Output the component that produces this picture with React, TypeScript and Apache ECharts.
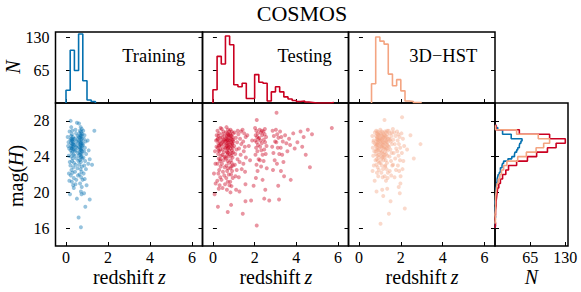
import { useEffect, useRef } from "react";
import * as echarts from "echarts";

const FONT = "Liberation Serif";
const COLOR_TRAIN = "#0571b0";
const COLOR_TEST = "#ca0020";
const COLOR_HST = "#f4a582";

const panelNames = ["Training", "Testing", "3D\u2212HST"];
const zTicks = [0, 2, 4, 6];
const magTicks = [16, 20, 24, 28];
const countTicks = [65, 130];

// redshift histogram bins (width 0.2)
const zBinEdges = [0, 0.2, 0.4, 0.6, 0.8, 1.0, 1.2, 1.4, 1.6, 1.8, 2.0, 2.2, 2.4, 2.6, 2.8, 3.0, 3.2, 3.4, 3.6, 3.8, 4.0, 4.2, 4.4, 4.6, 4.8, 5.0, 5.2, 5.4, 5.6, 5.8, 6.0];
const trainZCounts = [25, 104, 64, 136, 44, 6, 3, 0, 0, 0, 0, 0, 0, 0, 0, 0, 0, 0, 0, 0, 0, 0, 0, 0, 0, 0, 0, 0, 0, 0];
const testZCounts = [26, 92, 77, 132, 115, 36, 32, 39, 9, 9, 56, 41, 39, 4, 22, 32, 22, 12, 8, 5, 3, 4, 2, 1, 0, 0, 0, 0, 1, 0];
const hstZCounts = [0, 0, 0, 38, 130, 122, 116, 57, 34, 46, 24, 4, 3, 1, 1, 0, 0, 0, 0, 0, 0, 0, 0, 0, 0, 0, 0, 0, 0, 0];

// magnitude histogram bins
const magEdgesHalf = [16, 16.5, 17, 17.5, 18, 18.5, 19, 19.5, 20, 20.5, 21, 21.5, 22, 22.5, 23, 23.5, 24, 24.5, 25, 25.5, 26, 26.5, 27, 27.5];
const testMagCounts = [1, 0, 1, 1, 2, 2, 3, 4, 5, 7, 10, 14, 20, 25, 40, 60, 77, 97, 113, 130, 101, 45, 2];
const hstMagCounts = [0, 1, 0, 1, 1, 1, 1, 2, 3, 4, 6, 9, 12, 16, 22, 42, 58, 76, 90, 101, 80, 40, 1];
const magEdgesQuarter = [16, 16.25, 16.5, 16.75, 17, 17.25, 17.5, 17.75, 18, 18.25, 18.5, 18.75, 19, 19.25, 19.5, 19.75, 20, 20.25, 20.5, 20.75, 21, 21.25, 21.5, 21.75, 22, 22.25, 22.5, 22.75, 23, 23.25, 23.5, 23.75, 24, 24.25, 24.5, 24.75, 25, 25.25, 25.5, 25.75, 26, 26.25, 26.5, 26.75, 27, 27.25, 27.5];
const trainMagCounts = [1, 0, 0, 0, 1, 0, 0, 0, 0, 1, 0, 0, 1, 1, 1, 2, 2, 2, 3, 3, 4, 4, 5, 6, 8, 10, 10, 13, 14, 16, 24, 31, 36, 37, 40, 42, 45, 46, 48, 50, 30, 30, 14, 14, 5, 2];

// scatter points [redshift z, mag(H)]
const trainPoints = [
  [0.12, 25.6], [0.15, 24.9], [0.08, 26.2], [0.18, 23.4], [0.14, 22.1], [0.19, 19.8], [0.1, 25.2], [0.17, 26.8], [0.13, 24.1], [0.16, 21.3],
  [0.22, 28.0], [0.25, 27.3], [0.3, 26.9], [0.28, 26.5], [0.24, 26.3], [0.33, 26.2], [0.36, 26.0], [0.21, 25.9], [0.27, 25.8], [0.31, 25.7],
  [0.35, 25.6], [0.23, 25.5], [0.29, 25.4], [0.38, 25.3], [0.26, 25.2], [0.32, 25.1], [0.25, 25.0], [0.34, 24.9], [0.37, 24.8], [0.22, 24.7],
  [0.3, 24.6], [0.27, 24.4], [0.36, 24.2], [0.24, 24.0], [0.33, 23.8], [0.29, 23.5], [0.38, 23.3], [0.21, 23.0], [0.35, 22.8], [0.26, 22.5],
  [0.31, 22.2], [0.23, 21.9], [0.37, 21.6], [0.28, 21.2], [0.34, 20.8], [0.37, 20.5], [0.25, 26.0], [0.3, 25.9], [0.34, 25.4], [0.28, 24.9],
  [0.52, 27.8], [0.45, 27.0], [0.48, 26.6], [0.55, 26.3], [0.42, 26.0], [0.5, 25.7], [0.58, 25.5], [0.44, 25.3], [0.53, 25.0], [0.47, 24.7],
  [0.56, 24.4], [0.41, 24.1], [0.5, 23.8], [0.59, 23.5], [0.46, 23.1], [0.54, 22.7], [0.43, 22.3], [0.57, 21.9], [0.49, 21.4], [0.52, 19.3],
  [0.45, 20.9], [0.55, 25.9], [0.48, 25.1], [0.6, 17.2], [0.42, 24.6],
  [0.62, 27.7], [0.7, 27.3], [0.75, 27.1], [0.66, 26.9], [0.72, 26.8], [0.64, 26.6], [0.78, 26.5], [0.69, 26.4], [0.73, 26.3], [0.61, 26.2],
  [0.67, 26.1], [0.76, 26.0], [0.7, 25.9], [0.63, 25.8], [0.74, 25.7], [0.68, 25.6], [0.79, 25.5], [0.65, 25.4], [0.71, 25.3], [0.77, 25.2],
  [0.62, 25.1], [0.69, 25.0], [0.74, 24.9], [0.66, 24.8], [0.72, 24.7], [0.78, 24.6], [0.64, 24.5], [0.7, 24.4], [0.75, 24.3], [0.68, 24.2],
  [0.61, 24.1], [0.73, 24.0], [0.77, 23.8], [0.66, 23.6], [0.71, 23.4], [0.63, 23.1], [0.76, 22.9], [0.69, 22.6], [0.74, 22.3], [0.65, 22.0],
  [0.72, 21.7], [0.79, 21.4], [0.67, 21.0], [0.71, 20.1], [0.75, 20.6], [0.71, 16.1], [0.7, 26.2], [0.72, 25.5], [0.71, 24.8], [0.7, 25.2],
  [0.73, 26.6], [0.69, 23.9], [0.74, 19.8],
  [0.82, 26.9], [0.88, 26.4], [0.85, 26.0], [0.93, 25.7], [0.81, 25.3], [0.9, 25.0], [0.86, 24.6], [0.96, 24.3], [0.83, 23.9], [0.91, 23.5],
  [0.87, 23.0], [0.95, 22.6], [0.84, 22.1], [0.89, 21.5], [0.98, 20.8], [0.92, 18.4], [0.86, 19.9],
  [1.03, 25.8], [1.08, 24.7], [1.13, 23.7], [1.06, 23.2], [1.13, 19.2], [1.24, 23.1], [1.35, 26.9],
];

const testPoints = [
  [0.08, 19.8], [0.1, 24.6], [0.15, 25.8], [0.12, 23.2], [0.18, 26.4], [0.05, 22.1], [0.17, 25.1], [0.13, 21.0],
  [0.24, 18.4], [0.22, 26.9], [0.3, 26.6], [0.27, 26.3], [0.35, 26.1], [0.21, 25.9], [0.33, 25.7], [0.26, 25.5], [0.38, 25.4], [0.29, 25.2],
  [0.23, 25.0], [0.36, 24.8], [0.31, 24.6], [0.25, 24.3], [0.39, 24.1], [0.28, 23.8], [0.34, 23.5], [0.22, 23.2], [0.37, 22.9], [0.3, 22.5],
  [0.26, 22.1], [0.35, 21.7], [0.21, 21.3], [0.32, 20.8], [0.28, 20.4], [0.37, 27.2], [0.24, 26.0], [0.32, 25.3], [0.27, 24.7], [0.36, 23.7],
  [0.42, 27.1], [0.5, 26.8], [0.46, 26.5], [0.55, 26.3], [0.44, 26.1], [0.58, 25.9], [0.49, 25.7], [0.53, 25.4], [0.41, 25.2], [0.57, 25.0],
  [0.47, 24.8], [0.52, 24.5], [0.45, 24.2], [0.59, 23.9], [0.5, 23.6], [0.43, 23.2], [0.56, 22.8], [0.48, 22.3], [0.54, 21.9], [0.41, 21.4],
  [0.58, 20.9], [0.46, 20.5], [0.51, 25.9], [0.55, 24.0], [0.44, 25.6],
  [0.65, 27.3], [0.72, 27.0], [0.78, 26.8], [0.62, 26.7], [0.69, 26.6], [0.75, 26.4], [0.66, 26.3], [0.71, 26.2], [0.79, 26.1], [0.63, 26.0],
  [0.68, 25.9], [0.74, 25.8], [0.61, 25.7], [0.77, 25.6], [0.7, 25.5], [0.64, 25.4], [0.73, 25.3], [0.67, 25.2], [0.76, 25.1], [0.62, 25.0],
  [0.71, 24.9], [0.78, 24.7], [0.66, 24.6], [0.73, 24.4], [0.69, 24.2], [0.75, 24.0], [0.63, 23.8], [0.7, 23.5], [0.77, 23.3], [0.65, 23.0],
  [0.72, 22.7], [0.68, 22.4], [0.76, 22.0], [0.64, 21.6], [0.71, 21.2], [0.79, 20.8], [0.67, 20.3], [0.71, 17.8], [0.74, 26.5], [0.66, 25.8],
  [0.72, 25.0], [0.69, 24.5],
  [0.84, 27.0], [0.9, 26.8], [0.96, 26.6], [0.82, 26.5], [0.88, 26.3], [0.94, 26.2], [0.86, 26.0], [0.92, 25.9], [0.81, 25.8], [0.98, 25.7],
  [0.87, 25.6], [0.93, 25.4], [0.83, 25.3], [0.89, 25.2], [0.95, 25.0], [0.85, 24.9], [0.91, 24.7], [0.97, 24.5], [0.82, 24.3], [0.88, 24.1],
  [0.94, 23.9], [0.86, 23.6], [0.9, 23.3], [0.96, 23.0], [0.84, 22.7], [0.92, 22.4], [0.87, 22.0], [0.95, 21.6], [0.83, 21.2], [0.89, 20.7],
  [0.84, 20.0], [0.87, 18.6], [0.93, 25.5], [0.85, 26.4], [0.91, 24.4], [0.97, 25.9], [0.88, 22.9],
  [1.04, 26.7], [1.1, 26.1], [1.16, 25.6], [1.02, 25.2], [1.13, 24.8], [1.07, 24.3], [1.18, 23.7], [1.05, 23.1], [1.14, 22.5], [1.11, 20.3],
  [1.08, 21.8], [1.19, 26.9],
  [1.27, 20.1], [1.22, 26.5], [1.3, 26.0], [1.36, 25.4], [1.25, 24.9], [1.33, 24.2], [1.28, 23.4], [1.38, 22.6], [1.24, 21.7], [1.35, 26.8],
  [1.43, 17.6], [1.56, 19.0], [1.56, 20.9], [1.42, 27.0], [1.5, 26.6], [1.57, 26.2], [1.45, 25.7], [1.53, 25.1], [1.48, 24.6], [1.58, 23.9],
  [1.46, 23.2], [1.54, 22.3],
  [1.65, 26.4], [1.72, 25.2], [1.78, 23.6], [1.83, 19.1], [1.95, 20.75], [1.88, 25.8],
  [2.1, 28.1], [2.1, 16.3], [2.02, 27.2], [2.08, 26.9], [2.15, 26.6], [2.05, 26.4], [2.12, 26.2], [2.18, 26.0], [2.03, 25.8], [2.1, 25.6],
  [2.16, 25.3], [2.07, 25.0], [2.13, 24.6], [2.04, 24.2], [2.19, 23.7], [2.09, 23.1], [2.14, 22.4], [2.06, 21.6],
  [2.38, 21.4], [2.24, 27.0], [2.3, 26.7], [2.36, 26.4], [2.22, 26.1], [2.28, 25.8], [2.34, 25.5], [2.26, 25.1], [2.32, 24.7], [2.38, 24.2],
  [2.25, 23.6], [2.31, 22.9], [2.35, 26.9],
  [2.46, 19.3], [2.51, 20.3], [2.42, 26.8], [2.48, 26.5], [2.55, 26.2], [2.44, 25.9], [2.5, 25.6], [2.57, 25.2], [2.46, 24.8], [2.53, 24.3],
  [2.43, 23.5], [2.58, 22.7], [2.49, 27.1], [2.7, 19.1],
  [2.86, 26.9], [2.92, 26.3], [2.98, 25.7], [2.84, 25.1], [2.9, 24.4], [2.96, 23.6], [2.88, 22.5],
  [3.05, 28.9], [3.17, 19.2], [3.13, 20.75], [3.02, 27.0], [3.08, 26.5], [3.14, 26.1], [3.04, 25.6], [3.11, 25.0], [3.18, 24.3], [3.07, 23.2],
  [3.22, 26.8], [3.28, 26.2], [3.35, 25.7], [3.25, 25.0], [3.32, 24.2], [3.38, 23.4], [3.26, 22.4],
  [3.41, 21.8], [3.46, 26.4], [3.52, 25.5], [3.57, 24.6], [3.73, 21.4], [3.65, 26.0], [3.7, 25.3], [3.85, 26.6], [3.92, 24.9],
  [4.05, 25.6], [4.2, 26.8], [4.28, 25.1], [4.45, 24.2], [4.35, 26.2], [4.65, 22.8], [4.55, 27.0], [4.75, 26.5], [5.7, 27.2],
];

const hstPoints = [
  [0.75, 21.3], [0.64, 26.3], [0.7, 25.8], [0.77, 25.4], [0.66, 25.0], [0.73, 24.6], [0.68, 24.1], [0.79, 23.6], [0.71, 23.0], [0.65, 22.4],
  [0.76, 26.7], [0.69, 25.6],
  [0.84, 20.1], [0.82, 26.9], [0.88, 26.8], [0.94, 26.7], [0.86, 26.6], [0.92, 26.5], [0.98, 26.4], [0.81, 26.3], [0.87, 26.2], [0.93, 26.1],
  [0.85, 26.0], [0.91, 25.9], [0.97, 25.8], [0.83, 25.7], [0.89, 25.6], [0.95, 25.5], [0.86, 25.4], [0.92, 25.3], [0.81, 25.2], [0.98, 25.1],
  [0.88, 25.0], [0.94, 24.9], [0.84, 24.8], [0.9, 24.7], [0.96, 24.5], [0.82, 24.3], [0.87, 24.1], [0.93, 23.9], [0.85, 23.7], [0.91, 23.5],
  [0.97, 23.3], [0.83, 23.1], [0.89, 22.8], [0.95, 22.5], [0.86, 22.2], [0.92, 21.8], [0.88, 25.9], [0.9, 26.4], [0.84, 25.3], [0.96, 24.2],
  [0.8, 24.6], [0.99, 26.0],
  [1.03, 16.5], [1.11, 20.3], [1.16, 19.6], [1.02, 27.0], [1.08, 26.8], [1.14, 26.7], [1.19, 26.5], [1.05, 26.4], [1.11, 26.3], [1.17, 26.1],
  [1.01, 26.0], [1.07, 25.9], [1.13, 25.8], [1.18, 25.6], [1.04, 25.5], [1.1, 25.4], [1.15, 25.3], [1.06, 25.1], [1.12, 25.0], [1.19, 24.9],
  [1.02, 24.7], [1.08, 24.5], [1.14, 24.3], [1.05, 24.1], [1.11, 23.9], [1.17, 23.6], [1.03, 23.3], [1.09, 23.0], [1.15, 22.6], [1.07, 22.2],
  [1.13, 21.7], [1.01, 25.7], [1.16, 26.2], [1.09, 25.2], [1.12, 24.6], [1.04, 26.6], [1.18, 24.0], [1.06, 23.7], [1.1, 26.0], [1.14, 25.6],
  [1.22, 28.1], [1.35, 20.4], [1.24, 26.8], [1.3, 26.7], [1.36, 26.5], [1.21, 26.4], [1.27, 26.3], [1.33, 26.2], [1.39, 26.0], [1.25, 25.9],
  [1.31, 25.8], [1.37, 25.6], [1.23, 25.5], [1.29, 25.4], [1.35, 25.3], [1.21, 25.1], [1.27, 25.0], [1.33, 24.9], [1.38, 24.7], [1.24, 24.5],
  [1.3, 24.3], [1.36, 24.1], [1.22, 23.9], [1.28, 23.6], [1.34, 23.3], [1.26, 23.0], [1.32, 22.6], [1.38, 22.2], [1.23, 21.8], [1.29, 21.3],
  [1.37, 21.6], [1.26, 26.1], [1.32, 25.7], [1.28, 24.8], [1.35, 26.9], [1.21, 24.2], [1.39, 25.2], [1.25, 22.9],
  [1.43, 17.6], [1.51, 19.0], [1.42, 26.9], [1.48, 26.6], [1.55, 26.3], [1.45, 26.0], [1.52, 25.7], [1.58, 25.4], [1.44, 25.1], [1.5, 24.8],
  [1.56, 24.4], [1.46, 24.0], [1.53, 23.5], [1.59, 23.0], [1.47, 22.4], [1.54, 21.9], [1.49, 25.9], [1.57, 26.7],
  [1.62, 27.1], [1.68, 26.7], [1.75, 26.3], [1.64, 25.9], [1.71, 25.4], [1.78, 24.9], [1.66, 24.4], [1.73, 23.8], [1.63, 23.1], [1.77, 22.5],
  [1.7, 21.7],
  [1.98, 21.0], [1.9, 20.6], [1.95, 19.9], [1.82, 26.8], [1.88, 26.5], [1.94, 26.2], [1.85, 25.8], [1.91, 25.4], [1.97, 25.0], [1.83, 24.6],
  [1.89, 24.1], [1.96, 23.6], [1.86, 23.0], [1.92, 22.4], [1.99, 21.8],
  [2.06, 28.4], [2.19, 18.2], [2.03, 26.6], [2.1, 26.0], [2.16, 25.2], [2.05, 24.4], [2.12, 23.5], [2.08, 22.6],
  [2.46, 26.4], [2.94, 25.4], [2.62, 23.8], [2.3, 24.8],
];

function stepPoints(edges: number[], counts: number[], horizontal: boolean) {
  let first = 0;
  while (first < counts.length && counts[first] === 0) first++;
  let last = counts.length - 1;
  while (last > first && counts[last] === 0) last--;
  const pts: number[][] = [[edges[first], 0]];
  for (let i = first; i <= last; i++) {
    pts.push([edges[i], counts[i]]);
    pts.push([edges[i + 1], counts[i]]);
  }
  pts.push([edges[last + 1], 0]);
  return horizontal ? pts.map(([a, b]) => [b, a]) : pts;
}

function axis(gridIndex: number, min: number, max: number, ticks: number[], labels: boolean, position: string) {
  return {
    type: "value",
    gridIndex,
    min,
    max,
    position,
    axisLine: { show: false },
    splitLine: { show: false },
    axisTick: { show: true, inside: true, length: 4, customValues: ticks, lineStyle: { color: "#000", width: 1 } },
    axisLabel: { show: labels, customValues: ticks, fontFamily: FONT, fontSize: 16, color: "#000", margin: position === "bottom" ? 3 : 6 },
  };
}

const LABEL_SIZE = 20;

function txt(x: number, y: number, text: string, opts: any = {}) {
  const { rotation, italic, size, align } = opts;
  const style: any = {
    text,
    fontFamily: FONT,
    fontSize: size || LABEL_SIZE,
    fill: "#000",
    align: align || "center",
    verticalAlign: "middle",
  };
  if (italic) style.fontStyle = "italic";
  return { type: "text", x, y, rotation: rotation || 0, style };
}

export default function App() {
  const ref = useRef<HTMLDivElement>(null);
  useEffect(() => {
    if (!ref.current) return;
    const chart = echarts.init(ref.current, undefined, { renderer: "svg" });
    const colLeft = [55.5, 202.5, 348.5];
    const colWidth = [147, 146, 146.5];
    const gridBase = { show: true, borderColor: "#000", borderWidth: 1.5, backgroundColor: "rgba(0,0,0,0)", containLabel: false, outerBoundsMode: "none" };
    const grids: any[] = [];
    for (let i = 0; i < 3; i++) grids.push({ ...gridBase, left: colLeft[i], top: 32, width: colWidth[i], height: 71 });
    for (let i = 0; i < 3; i++) grids.push({ ...gridBase, left: colLeft[i], top: 103, width: colWidth[i], height: 143 });
    grids.push({ ...gridBase, left: 495, top: 103, width: 73, height: 143 });

    const xAxes: any[] = [];
    for (let i = 0; i < 6; i++) xAxes.push(axis(i, -0.5, 6.5, zTicks, i >= 3, "bottom"));
    xAxes.push(axis(6, 0, 135, countTicks, true, "bottom"));

    const yAxes: any[] = [];
    for (let i = 0; i < 3; i++) yAxes.push(axis(i, 0, 140, countTicks, i === 0, "left"));
    for (let i = 3; i < 6; i++) yAxes.push(axis(i, 14, 30, magTicks, i === 3, "left"));
    yAxes.push(axis(6, 14, 30, magTicks, false, "left"));
    for (let i = 0; i < 3; i++) yAxes.push(axis(i, 0, 140, countTicks, false, "right"));
    for (let i = 3; i < 6; i++) yAxes.push(axis(i, 14, 30, magTicks, false, "right"));

    const colors = [COLOR_TRAIN, COLOR_TEST, COLOR_HST];
    const zCounts = [trainZCounts, testZCounts, hstZCounts];
    const points = [trainPoints, testPoints, hstPoints];
    const series: any[] = [];
    for (let i = 0; i < 3; i++) {
      series.push({
        type: "line", xAxisIndex: i, yAxisIndex: i, data: stepPoints(zBinEdges, zCounts[i], false),
        showSymbol: false, symbol: "none", lineStyle: { color: colors[i], width: 1.6 }, itemStyle: { color: colors[i] }, z: 3,
      });
      series.push({
        type: "scatter", xAxisIndex: i + 3, yAxisIndex: i + 3, data: points[i], symbolSize: 4,
        itemStyle: { color: colors[i], opacity: 0.42 },
      });
    }
    const magHists = [
      { edges: magEdgesQuarter, counts: trainMagCounts, color: COLOR_TRAIN },
      { edges: magEdgesHalf, counts: testMagCounts, color: COLOR_TEST },
      { edges: magEdgesHalf, counts: hstMagCounts, color: COLOR_HST },
    ];
    magHists.forEach((h) => {
      series.push({
        type: "line", xAxisIndex: 6, yAxisIndex: 6, data: stepPoints(h.edges, h.counts, true),
        showSymbol: false, symbol: "none", lineStyle: { color: h.color, width: 1.6 }, itemStyle: { color: h.color }, z: 3,
      });
    });

    const annX = [153.7, 304.7, 443.3];
    const labX = [129, 275.5, 421.7];
    const R = Math.PI / 2;
    const graphic: any[] = [
      txt(302, 13, "COSMOS", { size: 22 }),
      txt(13, 67, "N", { rotation: R, italic: true }),
      // mag(H), rotated: reads bottom to top
      txt(15.5, 207, "mag(", { rotation: R, align: "left" }),
      txt(15.5, 166, "H", { rotation: R, align: "left", italic: true }),
      txt(15.5, 151.5, ")", { rotation: R, align: "left" }),
      txt(531.5, 277, "N", { italic: true }),
    ];
    for (let i = 0; i < 3; i++) {
      graphic.push(txt(annX[i], 55.5, panelNames[i], { size: 18.5 }));
      graphic.push(txt(labX[i] + 25, 277, "redshift", { align: "right" }));
      graphic.push(txt(labX[i] + 29, 277, "z", { align: "left", italic: true }));
    }

    chart.setOption({
      animation: false,
      backgroundColor: "#fff",
      textStyle: { fontFamily: FONT, color: "#000" },
      grid: grids,
      xAxis: xAxes,
      yAxis: yAxes,
      series,
      graphic,
    });
    return () => chart.dispose();
  }, []);
  return <div ref={ref} style={{ position: "fixed", left: 0, top: 0, width: 581, height: 292, background: "#fff" }} />;
}
